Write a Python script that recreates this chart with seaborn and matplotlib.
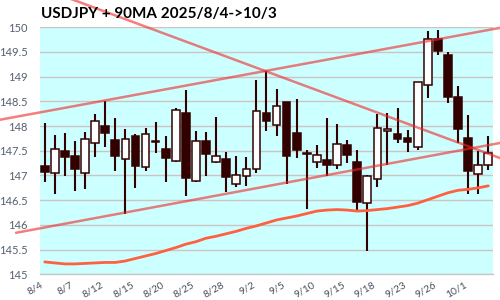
import numpy as np
import pandas as pd
import matplotlib
matplotlib.use("Agg")
import matplotlib.pyplot as plt
import seaborn as sns

# ---- data ----
dates = ['8/4', '8/5', '8/6', '8/7', '8/8', '8/11', '8/12', '8/13', '8/14', '8/15',
         '8/18', '8/19', '8/20', '8/21', '8/22', '8/25', '8/26', '8/27', '8/28', '8/29',
         '9/1', '9/2', '9/3', '9/4', '9/5', '9/8', '9/9', '9/10', '9/11', '9/12',
         '9/15', '9/16', '9/17', '9/18', '9/19', '9/22', '9/23', '9/24', '9/25', '9/26',
         '9/29', '9/30', '10/1', '10/2', '10/3']
open_ = [147.19, 147.06, 147.49, 147.39, 147.06, 147.65, 148.00, 147.72, 147.34, 147.80,
         147.18, 147.69, 147.53, 147.30, 148.26, 146.88, 147.69, 147.28, 147.34, 146.83,
         146.99, 147.14, 148.26, 148.03, 148.48, 147.87, 147.46, 147.28, 147.32, 147.22,
         147.62, 147.28, 146.44, 146.93, 147.90, 147.85, 147.75, 147.58, 148.84, 149.76,
         149.44, 148.58, 147.75, 147.04, 147.22]
high = [148.07, 147.82, 147.86, 147.70, 147.88, 148.24, 148.50, 148.16, 147.94, 147.84,
        147.96, 148.09, 147.79, 148.37, 148.74, 147.91, 147.89, 148.18, 147.47, 147.39,
        147.37, 148.93, 149.11, 148.76, 148.49, 148.55, 147.51, 147.62, 148.16, 148.05,
        147.71, 147.51, 147.01, 148.25, 148.26, 148.36, 147.92, 148.89, 149.93, 149.95,
        149.49, 148.82, 148.22, 147.49, 147.80]
low = [146.87, 146.62, 146.99, 146.69, 146.73, 147.38, 147.58, 147.09, 146.23, 146.75,
       147.09, 147.46, 146.86, 147.27, 146.58, 146.86, 146.99, 147.26, 146.66, 146.76,
       146.78, 147.05, 147.90, 147.80, 146.83, 147.36, 146.32, 147.16, 146.99, 147.14,
       147.25, 146.27, 145.48, 146.76, 147.22, 147.66, 147.48, 147.51, 148.57, 149.43,
       148.47, 147.66, 146.62, 146.62, 147.11]
close = [147.07, 147.53, 147.38, 147.13, 147.73, 148.11, 147.86, 147.39, 147.73, 147.20,
         147.85, 147.67, 147.36, 148.33, 146.95, 147.69, 147.44, 147.40, 146.97, 147.01,
         147.14, 148.31, 148.10, 148.41, 147.39, 147.52, 147.43, 147.42, 147.22, 147.64,
         147.42, 146.46, 146.98, 147.97, 147.94, 147.73, 147.68, 148.89, 149.76, 149.53,
         148.59, 147.95, 147.09, 147.22, 147.45]
ma90 = [145.25, 145.23, 145.21, 145.21, 145.22, 145.23, 145.24, 145.24, 145.27, 145.32,
        145.37, 145.42, 145.48, 145.54, 145.61, 145.66, 145.73, 145.77, 145.82, 145.87,
        145.93, 145.98, 146.04, 146.10, 146.14, 146.18, 146.23, 146.28, 146.30, 146.31,
        146.30, 146.28, 146.29, 146.31, 146.33, 146.36, 146.39, 146.44, 146.51, 146.58,
        146.65, 146.70, 146.72, 146.75, 146.79]
y_ticks = [145, 145.5, 146, 146.5, 147, 147.5, 148, 148.5, 149, 149.5, 150]
y_tick_labels = ['145', '145.5', '146', '146.5', '147', '147.5', '148', '148.5', '149', '149.5', '150']
# trend lines: endpoints as (candle index, price)
trend_lower_x = [-2.85, 46.0]
trend_lower_y = [145.84, 147.69]
trend_upper_x = [-6.0, 46.0]
trend_upper_y = [148.07, 150.02]
trend_down_x = [0.0, 46.0]
trend_down_y = [150.77, 147.29]
title = "USDJPY + 90MA 2025/8/4->10/3"

df = pd.DataFrame({"date": dates, "open": open_, "high": high, "low": low,
                   "close": close, "ma90": ma90})
df["idx"] = np.arange(len(df))
df["up"] = df["close"] >= df["open"]

sns.set_style("white")
plt.rcParams["font.family"] = ["Lato", "DejaVu Sans"]

dark = "#330000"
fig = plt.figure(figsize=(5, 3), dpi=100)
ax = fig.add_axes([0.08, 0.0857, 0.9066, 0.8233])
ax.set_facecolor("#ccffff")

# wicks
ax.vlines(df["idx"], df["low"], df["high"], color=dark, lw=1.5, zorder=2)
# bodies
body_bottom = df[["open", "close"]].min(axis=1)
body_h = (df["close"] - df["open"]).abs().clip(lower=0.02)
ax.bar(df["idx"], body_h, bottom=body_bottom, width=0.76,
       color=np.where(df["up"], "white", dark), edgecolor=dark, linewidth=1.1, zorder=3)

# 90MA
sns.lineplot(data=df, x="idx", y="ma90", color="#ff6040", lw=2, ax=ax, zorder=4)

# trend lines
for tx, ty in [(trend_lower_x, trend_lower_y), (trend_upper_x, trend_upper_y),
               (trend_down_x, trend_down_y)]:
    ax.plot(tx, ty, color=(0.95, 0.15, 0.15, 0.6), lw=1.8, clip_on=False, zorder=5)

ax.set_xlim(-0.47, 44.5)
ax.set_ylim(145, 150)
ax.set_yticks(y_ticks)
ax.set_yticklabels(y_tick_labels)
ax.set_xticks(df["idx"][::3])
ax.set_xticklabels(df["date"][::3], rotation=30, ha="right")
ax.set_xlabel("")
ax.set_ylabel("")
ax.yaxis.grid(True, color="#cfc4c4", lw=1, zorder=0)
ax.xaxis.grid(False)
ax.set_axisbelow(True)
for s in ["top", "left", "right"]:
    ax.spines[s].set_visible(False)
ax.spines["bottom"].set_color("#c8c8c8")
ax.spines["bottom"].set_linewidth(1)
ax.tick_params(axis="y", length=0, pad=9, labelsize=8, labelcolor="#556070")
ax.tick_params(axis="x", length=0, pad=4, labelsize=7.5, labelcolor="#4a5060")

fig.text(0.082, 0.939, title, ha="left", va="baseline", fontsize=11,
         fontweight="bold", color="black")

fig.savefig("out.png", dpi=100)
